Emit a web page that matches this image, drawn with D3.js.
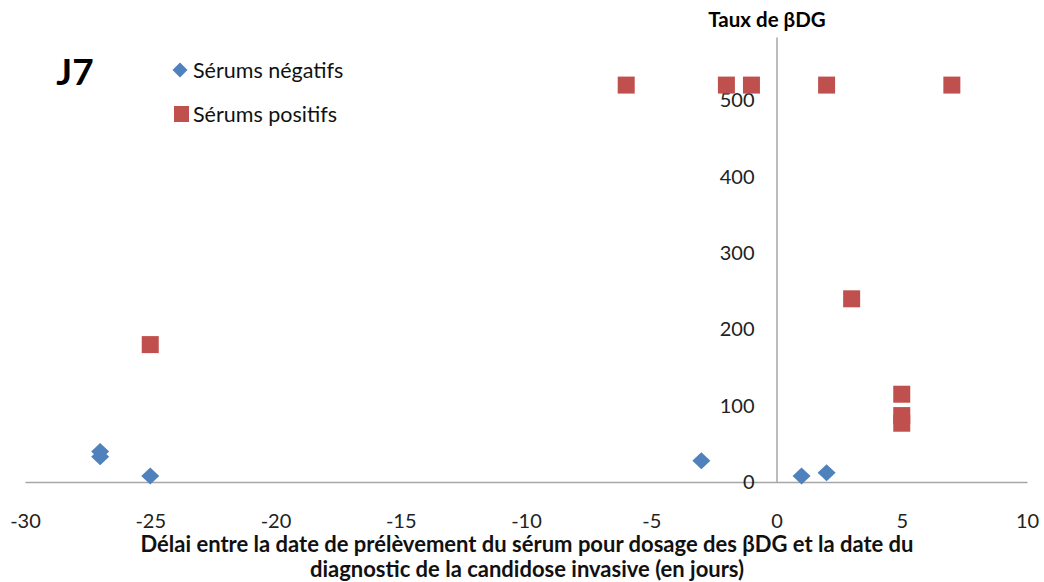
<!DOCTYPE html>
<html>
<head>
<meta charset="utf-8">
<script src="https://cdn.jsdelivr.net/npm/d3@7"></script>
<style>
  body { margin: 0; background: #fff; }
  svg { font-family: Lato, "Open Sans", sans-serif; }
</style>
</head>
<body>
<svg id="chart" width="1044" height="582"></svg>
<script>
// data
const negX = [-27, -27, -25, -3, 1, 2];
const negY = [40, 33, 8, 28, 8, 12];
const posX = [-25, -6, -2, -1, 2, 7, 3, 5, 5, 5];
const posY = [180, 520, 520, 520, 520, 520, 240, 115, 87, 77];
const xTicks = [-30, -25, -20, -15, -10, -5, 0, 5, 10];
const yTicks = [0, 100, 200, 300, 400, 500];
const seriesNames = ["Sérums négatifs", "Sérums positifs"];

const BLUE = "#4f81bd";
const RED = "#c0504d";
const AXIS = "#a6a6a6";

const svg = d3.select("#chart");

const x = d3.scaleLinear().domain([-30, 10]).range([25, 1027]);
const y = d3.scaleLinear().domain([0, 583]).range([482, 37]);

// plain hyphen for negatives, like the original
const fmt = d => String(d);

// x axis
const gx = svg.append("g")
  .attr("transform", `translate(0,${y(0)})`)
  .call(d3.axisBottom(x).tickValues(xTicks).tickFormat(fmt).tickSize(0).tickPadding(32).tickSizeOuter(0));
gx.select(".domain").attr("stroke", AXIS).attr("stroke-width", 1.5);
gx.selectAll("text").attr("font-size", 20).attr("fill", "#222").attr("font-family", "Lato");

// y axis at x = 0
const gy = svg.append("g")
  .attr("transform", `translate(${x(0)},0)`)
  .call(d3.axisLeft(y).tickValues(yTicks).tickFormat(fmt).tickSize(0).tickPadding(22).tickSizeOuter(0));
gy.select(".domain").attr("stroke", AXIS).attr("stroke-width", 1.5);
gy.selectAll("text").attr("font-size", 20).attr("fill", "#222").attr("font-family", "Lato");

const diamond = (cx, cy, hw, hh) => `M${cx},${cy - hh}L${cx + hw},${cy}L${cx},${cy + hh}L${cx - hw},${cy}Z`;

// negative series (diamonds)
svg.append("g").selectAll("path")
  .data(d3.range(negX.length))
  .join("path")
  .attr("d", i => diamond(x(negX[i]), y(negY[i]), 9, 8.5))
  .attr("fill", BLUE);

// positive series (squares)
const sq = 17;
svg.append("g").selectAll("rect")
  .data(d3.range(posX.length))
  .join("rect")
  .attr("x", i => x(posX[i]) - sq / 2)
  .attr("y", i => y(posY[i]) - sq / 2)
  .attr("width", sq)
  .attr("height", sq)
  .attr("fill", RED);

// legend
const legend = svg.append("g");
legend.append("path").attr("d", diamond(180, 70, 7.5, 7.5)).attr("fill", BLUE);
legend.append("rect").attr("x", 174).attr("y", 106).attr("width", 15).attr("height", 16).attr("fill", RED);
legend.selectAll("text")
  .data(seriesNames)
  .join("text")
  .attr("x", 193)
  .attr("y", (d, i) => 70 + i * 44)
  .attr("dy", "0.35em")
  .attr("font-size", 21.5)
  .attr("fill", "#111")
  .text(d => d);

// J7 label
svg.append("text")
  .attr("x", 75).attr("y", 85)
  .attr("text-anchor", "middle")
  .attr("font-size", 37).attr("font-weight", "bold")
  .text("J7");

// y axis title
svg.append("text")
  .attr("x", 767).attr("y", 27)
  .attr("text-anchor", "middle")
  .attr("font-size", 20.5).attr("font-weight", "bold")
  .text("Taux de βDG");

// x axis title
const xt = svg.append("text")
  .attr("text-anchor", "middle")
  .attr("font-size", 22).attr("font-weight", "bold")
  .attr("fill", "#111");
xt.append("tspan").attr("x", 527).attr("y", 552)
  .text("Délai entre la date de prélèvement du sérum pour dosage des βDG et la date du");
xt.append("tspan").attr("x", 527).attr("y", 577)
  .text("diagnostic de la candidose invasive (en jours)");
</script>
</body>
</html>
